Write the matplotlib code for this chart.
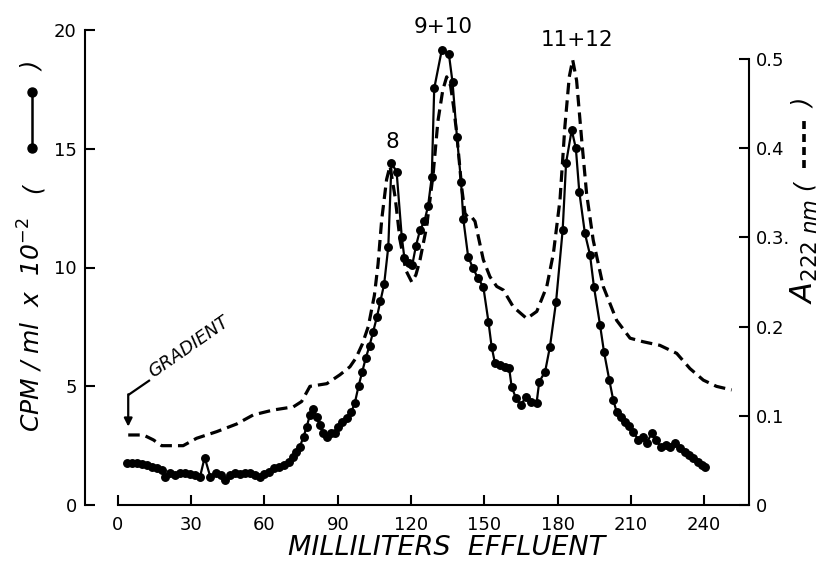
import matplotlib
matplotlib.use("Agg")
import matplotlib.pyplot as plt
from matplotlib.lines import Line2D

# ---- data ----
cpm_ml = [3.5, 5.6, 7.6, 9.7, 11.7, 13.8, 15.8, 17.9, 19.2, 21.3, 23.3, 25.4, 27.4, 29.5, 31.5, 33.6,
          35.5, 37.8, 40.0, 42.0, 44.0, 46.0, 48.0, 50.0, 52.0, 54.0, 56.0, 58.0, 60.0, 62.0, 64.0,
          66.0, 68.0, 70.0, 71.5, 73.0, 74.5, 76.0, 77.3, 78.6, 80.0, 81.3, 82.7, 84.0, 85.4, 87.2,
          88.8, 90.0, 91.6, 93.6, 95.5, 97.0, 98.5, 100.0, 101.5, 103.0, 104.5, 106.0, 107.5, 109.0,
          110.7, 112.0, 114.1, 116.2, 117.3, 119.0, 120.5, 122.0, 123.7, 125.5, 127.0, 128.5, 129.5,
          132.6, 135.5, 137.0, 138.8, 140.5, 141.4, 143.4, 145.4, 147.4, 149.6, 151.7, 153.0, 154.4,
          156.4, 158.5, 160.2, 161.2, 163.0, 165.0, 167.1, 169.1, 171.4, 172.5, 174.9, 176.9, 179.4,
          182.1, 183.5, 185.8, 187.5, 188.9, 191.2, 193.3, 194.9, 197.4, 199.0, 201.2, 202.8, 204.2,
          205.8, 207.6, 209.4, 211.0, 213.1, 214.9, 216.5, 218.5, 220.3, 222.2, 224.4, 226.0, 228.1,
          230.1, 232.2, 233.9, 235.6, 237.4, 239.0, 240.4]
cpm_val = [1.75, 1.75, 1.75, 1.71, 1.68, 1.60, 1.54, 1.47, 1.19, 1.33, 1.26, 1.33, 1.33, 1.30, 1.26, 1.19,
           2.00, 1.19, 1.33, 1.26, 1.05, 1.26, 1.33, 1.30, 1.33, 1.33, 1.26, 1.19, 1.30, 1.40, 1.54,
           1.60, 1.68, 1.82, 2.03, 2.25, 2.46, 2.88, 3.30, 3.79, 4.04, 3.72, 3.37, 3.02, 2.88, 3.02,
           3.02, 3.30, 3.51, 3.65, 3.90, 4.30, 5.00, 5.60, 6.20, 6.70, 7.30, 7.90, 8.60, 9.30,
           10.88, 14.40, 14.03, 11.30, 10.39, 10.18, 10.10, 10.90, 11.58, 11.95, 12.60, 13.82, 17.54,
           19.16, 18.99, 17.80, 15.51, 13.60, 12.05, 10.45, 9.97, 9.55, 9.19, 7.72, 6.67, 5.96,
           5.89, 5.82, 5.75, 4.98, 4.49, 4.21, 4.56, 4.35, 4.28, 5.19, 5.61, 6.67, 8.56,
           11.58, 14.41, 15.79, 15.02, 13.19, 11.44, 10.53, 9.19, 7.58, 6.46, 5.26, 4.42, 3.93,
           3.72, 3.51, 3.33, 3.09, 2.74, 2.88, 2.60, 3.02, 2.74, 2.46, 2.53, 2.46, 2.60,
           2.39, 2.25, 2.11, 1.97, 1.82, 1.68, 1.61]

abs_ml = [4.2, 10.4, 14.5, 17.9, 26.7, 32.2, 40.4, 48.6, 55.4, 63.6, 71.8, 75.2, 78.6, 85.5, 90.9,
          95.0, 97.5, 100.0, 102.5, 105.0, 106.5, 108.0, 110.0, 111.4, 113.5, 115.5, 117.9, 120.3,
          122.0, 123.7, 126.4, 129.1, 131.0, 133.0, 134.6, 136.2, 137.5, 138.7, 140.7, 142.1, 143.5,
          144.8, 146.2, 149.6, 152.3, 155.1, 157.8, 161.9, 167.4, 171.5, 175.6, 178.3, 181.0, 183.0,
          184.8, 186.2, 187.8, 189.9, 191.9, 194.6, 198.7, 204.2, 209.7, 215.1, 221.9, 228.8, 234.2,
          239.7, 245.1, 251.3]
abs_val = [0.0785, 0.0785, 0.073, 0.0665, 0.0665, 0.0748, 0.0822, 0.0908, 0.101, 0.1065, 0.110,
           0.116, 0.133, 0.136, 0.146, 0.155, 0.165, 0.180, 0.200, 0.235, 0.270, 0.320, 0.365,
           0.380, 0.345, 0.297, 0.263, 0.250, 0.258, 0.275, 0.312, 0.372, 0.430, 0.465, 0.480,
           0.470, 0.445, 0.417, 0.357, 0.327, 0.322, 0.323, 0.318, 0.275, 0.256, 0.245, 0.241,
           0.222, 0.209, 0.217, 0.245, 0.282, 0.342, 0.424, 0.480, 0.499, 0.476, 0.409, 0.349,
           0.297, 0.245, 0.207, 0.187, 0.183, 0.179, 0.170, 0.153, 0.140, 0.133, 0.129]

x_ticks = [0, 30, 60, 90, 120, 150, 180, 210, 240]
left_ticks = [0, 5, 10, 15, 20]
right_ticks = [0, 0.1, 0.2, 0.3, 0.4, 0.5]
right_labels = ["0", "0.1", "0.2", "0.3.", "0.4", "0.5"]
peak_labels = [("8", 112.2, 14.85), ("9+10", 133.0, 19.7), ("11+12", 188.0, 19.15)]

# ---- figure ----
W, H = 819, 561
fig = plt.figure(figsize=(W / 100, H / 100), dpi=100)
plt.rcParams['font.family'] = ['DejaVu Sans']

def fx(px):
    return px / W

def fy(py):
    return 1 - py / H

ax = fig.add_axes([fx(85), fy(505), (749 - 85) / W, (505 - 30) / H])
ax.set_xlim(-13.5, 258.4)
ax.set_ylim(0, 20)
ax.spines['top'].set_visible(False)
ax.spines['right'].set_visible(False)
ax.spines['bottom'].set_bounds(0, 258.4)
for s in ax.spines.values():
    s.set_linewidth(1.5)
ax.set_xticks(x_ticks)
ax.set_yticks(left_ticks)
ax.tick_params(axis='both', direction='in', length=7, width=1.5, labelsize=13, pad=6)
ax.tick_params(axis='x', pad=8)

ax2 = ax.twinx()
ax2.set_ylim(0, 0.5325)
for k in ['top', 'left', 'bottom']:
    ax2.spines[k].set_visible(False)
ax2.spines['right'].set_bounds(0, 0.5)
ax2.spines['right'].set_linewidth(1.5)
ax2.set_yticks(right_ticks)
ax2.set_yticklabels(right_labels)
ax2.tick_params(axis='y', direction='in', length=7, width=1.5, labelsize=13, pad=5)

# series
ax.plot(cpm_ml, cpm_val, '-', color='black', lw=1.6, marker='o', ms=5.4, zorder=3)
ax2.plot(abs_ml, abs_val, color='black', lw=2.3, dashes=(3.6, 1.9), zorder=2)

# peak labels
for txt, xv, yv in peak_labels:
    ax.text(xv, yv, txt, ha='center', va='bottom', fontsize=15.5)

# gradient annotation
ax.plot([13.1, 4.2], [5.26, 4.63], color='black', lw=1.6, solid_capstyle='butt')
ax.annotate('', xy=(4.2, 3.3), xytext=(4.2, 4.66),
            arrowprops=dict(arrowstyle='-|>', color='black', lw=1.6, mutation_scale=12,
                            shrinkA=0, shrinkB=0))
ax.text(14.3, 5.35, 'GRADIENT', rotation=35, rotation_mode='anchor', ha='left', va='baseline',
        fontsize=13, style='italic')

# axis labels
fig.text(fx(447), fy(548), 'MILLILITERS  EFFLUENT', ha='center', va='center',
         fontsize=19.5, style='italic')

fig.text(fx(31), fy(432), r'CPM / ml  x  10$^{-2}$', rotation=90, ha='center', va='bottom',
         fontsize=18, style='italic')
fig.text(fx(33), fy(188), '(', rotation=90, ha='center', va='center', fontsize=17, style='italic')
fig.text(fx(33), fy(66), ')', rotation=90, ha='center', va='center', fontsize=17, style='italic')
fig.add_artist(Line2D([fx(32), fx(32)], [fy(148), fy(92)], color='black', lw=1.8,
                      marker='o', ms=6.5, transform=fig.transFigure))

fig.text(fx(804), fy(304), r'$\mathit{A}_{\mathit{222\ nm}}$', rotation=90, ha='center',
         va='bottom', fontsize=22)
fig.text(fx(804), fy(185), '(', rotation=90, ha='center', va='center', fontsize=17, style='italic')
fig.text(fx(804), fy(103), ')', rotation=90, ha='center', va='center', fontsize=17, style='italic')
fig.add_artist(Line2D([fx(804), fx(804)], [fy(168), fy(116)], color='black', lw=2.6,
                      dashes=(2.2, 1.4), transform=fig.transFigure))

fig.savefig('out.png', dpi=100)
